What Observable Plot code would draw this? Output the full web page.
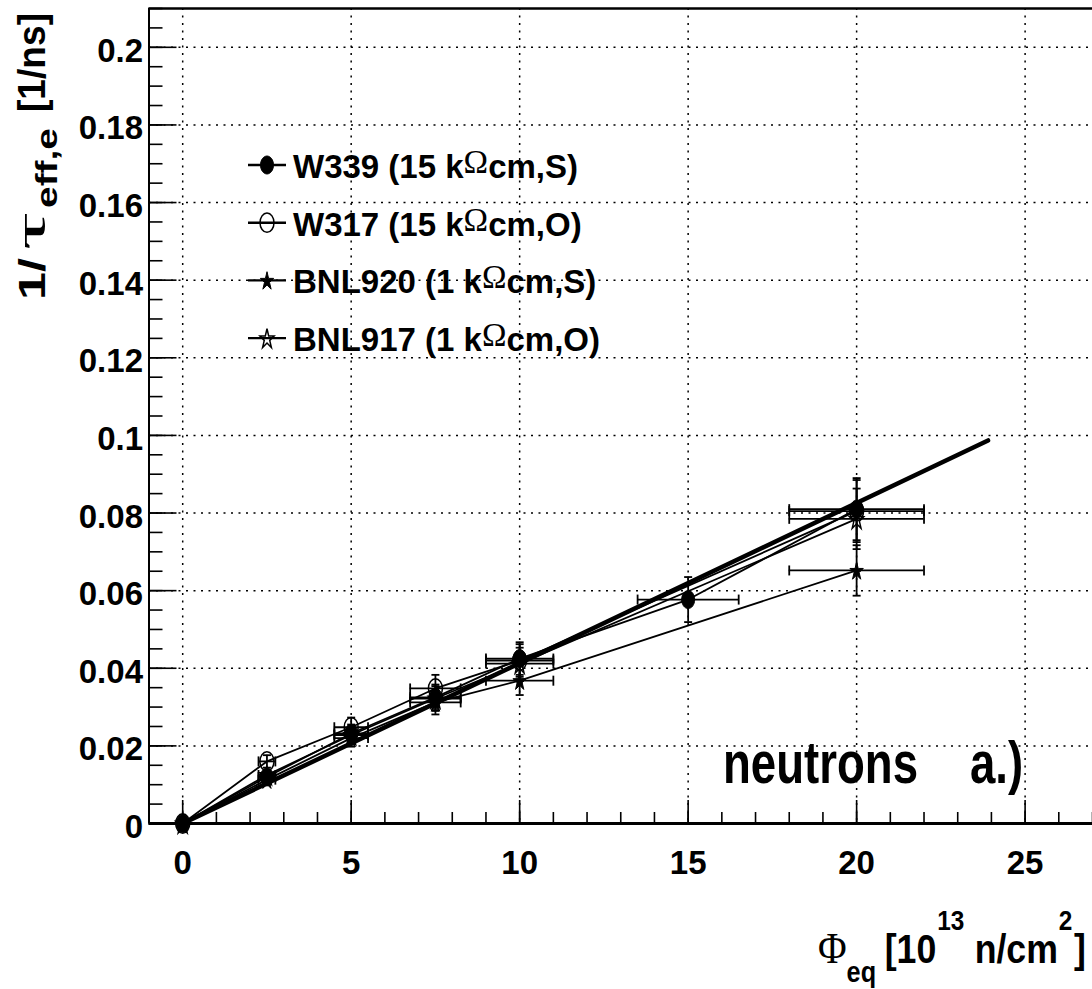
<!DOCTYPE html>
<html>
<head>
<meta charset="utf-8">
<script src="https://cdn.jsdelivr.net/npm/d3@7"></script>
<script src="https://cdn.jsdelivr.net/npm/@observablehq/plot@0.6"></script>
<style>
  html, body { margin: 0; padding: 0; background: #fff; }
  #chart svg { display: block; }
</style>
</head>
<body>
<div id="chart"></div>
<script>
// ---------- data ----------
const xTicks = [0, 5, 10, 15, 20, 25];
const yTicks = [0, 0.02, 0.04, 0.06, 0.08, 0.1, 0.12, 0.14, 0.16, 0.18, 0.2];

const seriesNames = ["W339 (15 kΩcm,S)", "W317 (15 kΩcm,O)", "BNL920 (1 kΩcm,S)", "BNL917 (1 kΩcm,O)"];

const w339X    = [0, 2.5, 5, 7.5, 10, 15, 20];
const w339XErr = [0, 0.25, 0.5, 0.75, 1, 1.5, 2];
const w339Y    = [0, 0.0120, 0.0232, 0.0325, 0.0425, 0.0577, 0.0810];
const w339YErr = [0, 0.0012, 0.0023, 0.0033, 0.0042, 0.0058, 0.0080];

const w317X    = [0, 2.5, 5, 7.5, 10, 20];
const w317XErr = [0, 0.25, 0.5, 0.75, 1, 2];
const w317Y    = [0, 0.0160, 0.0248, 0.0348, 0.0420, 0.0805];
const w317YErr = [0, 0.0016, 0.0025, 0.0035, 0.0042, 0.0080];

const bnl920X    = [0, 2.5, 5, 7.5, 10, 20];
const bnl920XErr = [0, 0.25, 0.5, 0.75, 1, 2];
const bnl920Y    = [0, 0.0113, 0.0220, 0.0312, 0.0368, 0.0652];
const bnl920YErr = [0, 0.0011, 0.0022, 0.0031, 0.0037, 0.0065];

const bnl917X    = [0, 2.5, 5, 7.5, 10, 20];
const bnl917XErr = [0, 0.25, 0.5, 0.75, 1, 2];
const bnl917Y    = [0, 0.0125, 0.0228, 0.0322, 0.0412, 0.0785];
const bnl917YErr = [0, 0.0012, 0.0023, 0.0032, 0.0041, 0.0078];

const fitX = [0, 23.9];
const fitY = [0, 0.0987];

// ---------- styling ----------
const SANS = "'Liberation Sans', Arial, Helvetica, sans-serif";
const SERIF = "'Liberation Serif', 'Times New Roman', serif";
const SY = 1.38; // vertical stretch of markers in the original

function ellipsePath(ctx, rx, ry) {
  const k = 0.5523;
  ctx.moveTo(rx, 0);
  ctx.bezierCurveTo(rx, ry * k, rx * k, ry, 0, ry);
  ctx.bezierCurveTo(-rx * k, ry, -rx, ry * k, -rx, 0);
  ctx.bezierCurveTo(-rx, -ry * k, -rx * k, -ry, 0, -ry);
  ctx.bezierCurveTo(rx * k, -ry, rx, -ry * k, rx, 0);
  ctx.closePath();
}
function starPath(ctx, R, sy) {
  const kr = Math.sin(Math.PI / 10) / Math.sin(7 * Math.PI / 10);
  for (let i = 0; i < 10; i++) {
    const a = Math.PI / 5 * i;
    const rad = i % 2 ? R * kr : R;
    const px = Math.sin(a) * rad, py = -Math.cos(a) * rad * sy + R * 0.1 * sy;
    if (i) ctx.lineTo(px, py); else ctx.moveTo(px, py);
  }
  ctx.closePath();
}
const rOf = size => Math.sqrt(size / Math.PI);
const ellipseSym = { draw(ctx, size) { const r = rOf(size); ellipsePath(ctx, r, r * SY); } };
const starSym = { draw(ctx, size) { starPath(ctx, rOf(size), SY); } };
const vbarSym = { draw(ctx, size) { const r = rOf(size); ctx.moveTo(0, -r); ctx.lineTo(0, r); } };
const hbarSym = { draw(ctx, size) { const r = rOf(size); ctx.moveTo(-r, 0); ctx.lineTo(r, 0); } };

const markerStyle = [
  { symbol: ellipseSym, r: 6.5, fill: "black", stroke: "black", sw: 1 },
  { symbol: ellipseSym, r: 7, fill: "none", stroke: "black", sw: 1.5 },
  { symbol: starSym, r: 7, fill: "black", stroke: "black", sw: 1 },
  { symbol: starSym, r: 7.5, fill: "none", stroke: "black", sw: 1.5 }
];

// ---------- rows ----------
const raw = [
  [w339X, w339XErr, w339Y, w339YErr],
  [w317X, w317XErr, w317Y, w317YErr],
  [bnl920X, bnl920XErr, bnl920Y, bnl920YErr],
  [bnl917X, bnl917XErr, bnl917Y, bnl917YErr]
];
const rows = [];
raw.forEach(([xs, exs, ys, eys], s) => xs.forEach((x, i) =>
  rows.push({ s, series: seriesNames[s], x, ex: exs[i], y: ys[i], ey: eys[i] })));
const errRows = rows.filter(d => d.ex > 0);
const fitRows = fitX.map((x, i) => ({ x, y: fitY[i] }));

const W = 1092, H = 989, ML = 148.5, MR = 0, MT = 8, MB = 166;
const FW = W - ML - MR, FH = H - MT - MB;
const xMinor = d3.range(-1, 27.01, 1);
const yMinor = d3.range(0, 0.2101, 0.005);

const dotted = { stroke: "black", strokeOpacity: 1, strokeWidth: 1.5, strokeDasharray: "2,5.5" };

const marks = [
  Plot.gridX(xTicks, dotted),
  Plot.gridY(yTicks.slice(1), dotted),
  Plot.tickX(xMinor, { x: d => d, insetTop: FH - 11, strokeWidth: 1.6 }),
  Plot.tickX(xTicks, { x: d => d, insetTop: FH - 23, strokeWidth: 1.6 }),
  Plot.tickY(yMinor, { y: d => d, insetRight: FW - 14, strokeWidth: 1.6 }),
  Plot.tickY(yTicks, { y: d => d, insetRight: FW - 28, strokeWidth: 1.6 }),
  Plot.axisX(xTicks, { tickSize: 0, tickPadding: 27, fontSize: 33, fontWeight: "bold", fontFamily: SANS, label: null }),
  Plot.axisY(yTicks, { tickSize: 0, tickPadding: 6, fontSize: 33, fontWeight: "bold", fontFamily: SANS, label: null, dy: 4, tickFormat: d => String(d) }),
  Plot.ruleY([0], { stroke: "black", strokeWidth: 2.8 }),
  Plot.ruleY([0.21], { stroke: "black", strokeWidth: 2.4 }),
  Plot.ruleX([-1], { stroke: "black", strokeWidth: 2 }),
  // connecting lines
  Plot.line(rows, { x: "x", y: "y", z: "series", stroke: "black", strokeWidth: 1.8 }),
  // error bars
  Plot.ruleY(errRows, { y: "y", x1: d => d.x - d.ex, x2: d => d.x + d.ex, stroke: "black", strokeWidth: 1.8 }),
  Plot.ruleX(errRows, { x: "x", y1: d => d.y - d.ey, y2: d => d.y + d.ey, stroke: "black", strokeWidth: 1.8 }),
  Plot.dot(errRows, { x: d => d.x - d.ex, y: "y", symbol: vbarSym, r: 5, stroke: "black", strokeWidth: 1.8 }),
  Plot.dot(errRows, { x: d => d.x + d.ex, y: "y", symbol: vbarSym, r: 5, stroke: "black", strokeWidth: 1.8 }),
  Plot.dot(errRows, { x: "x", y: d => d.y - d.ey, symbol: hbarSym, r: 4, stroke: "black", strokeWidth: 1.8 }),
  Plot.dot(errRows, { x: "x", y: d => d.y + d.ey, symbol: hbarSym, r: 4, stroke: "black", strokeWidth: 1.8 }),
  // markers
  ...markerStyle.map((m, s) => Plot.dot(rows.filter(d => d.s === s), {
    x: "x", y: "y", symbol: m.symbol, r: m.r, fill: m.fill, stroke: m.stroke, strokeWidth: m.sw
  })),
  // linear fit
  Plot.line(fitRows, { x: "x", y: "y", stroke: "black", strokeWidth: 4.5 })
];

const chart = Plot.plot({
  width: W, height: H,
  marginLeft: ML, marginRight: MR, marginTop: MT, marginBottom: MB,
  x: { domain: [-1, 27] },
  y: { domain: [0, 0.21] },
  style: { background: "white", color: "black", fontFamily: SANS, overflow: "visible" },
  marks
});
document.getElementById("chart").appendChild(chart);

// ---------- annotations (legend, titles, label) ----------
const svg = d3.select(chart);
function txt(parent, o) {
  const t = parent.append("text")
    .attr("text-anchor", o.anchor || "start")
    .attr("font-family", o.family || SANS)
    .attr("font-weight", o.weight || "bold")
    .attr("font-size", o.size)
    .attr("transform", `translate(${o.x},${o.y})` + (o.rotate ? ` rotate(${o.rotate})` : "") + (o.sx ? ` scale(${o.sx},1)` : ""));
  if (o.text != null) t.text(o.text);
  if (o.len) t.attr("textLength", o.len).attr("lengthAdjust", "spacingAndGlyphs");
  return t;
}

// legend
const legend = svg.append("g");
markerStyle.forEach((m, i) => {
  const cy = 165 + i * 57.7;
  legend.append("line").attr("x1", 248).attr("x2", 286).attr("y1", cy).attr("y2", cy)
    .attr("stroke", "black").attr("stroke-width", 2.4);
  const p = d3.path();
  m.symbol.draw(p, m.r * m.r * Math.PI);
  legend.append("path").attr("d", p.toString()).attr("transform", `translate(267,${cy})`)
    .attr("fill", m.fill).attr("stroke", m.stroke).attr("stroke-width", m.sw);
  const [pre, post] = seriesNames[i].split("Ω");
  const t = legend.append("text").attr("x", 293).attr("y", cy + 13).attr("text-anchor", "start")
    .attr("font-family", SANS).attr("font-weight", "bold").attr("font-size", 33);
  t.append("tspan").text(pre);
  t.append("tspan").attr("font-family", SERIF).attr("font-weight", "normal").attr("font-size", 33).attr("dy", -5).text("Ω");
  t.append("tspan").attr("dy", 5).text(post);
});

// y title (rotated pieces, measured along the axis)
const yt = svg.append("g");
txt(yt, { x: 45, y: 13, rotate: -90, anchor: "end", size: 38, text: "[1/ns]", len: 99 });
txt(yt, { x: 57, y: 128, rotate: -90, anchor: "end", size: 30, text: "eff,e", len: 80 });
txt(yt, { x: 45, y: 212, rotate: -90, anchor: "end", size: 44, family: SERIF, weight: "normal", text: "τ", len: 38 });
txt(yt, { x: 45, y: 300, rotate: -90, anchor: "start", size: 37, text: "1/", len: 42 });

// x title: Φ_eq [10^13 n/cm^2]
const xt = txt(svg, { x: 818, y: 963, size: 41, sx: 0.87 });
xt.append("tspan").attr("font-family", SERIF).attr("font-weight", "normal").attr("font-size", 45).text("Φ");
xt.append("tspan").attr("font-size", 29).attr("dy", 19).text("eq");
xt.append("tspan").attr("dy", -19).attr("dx", 10).text("[10");
xt.append("tspan").attr("font-size", 28).attr("dy", -33).attr("dx", 1).text("13");
xt.append("tspan").attr("dy", 33).attr("dx", 12).text("n/cm");
xt.append("tspan").attr("font-size", 28).attr("dy", -33).attr("dx", 1).text("2");
xt.append("tspan").attr("dy", 33).attr("dx", 2).text("]");

// panel label
txt(svg, { x: 723, y: 783, size: 60, sx: 0.76, text: "neutrons" });
txt(svg, { x: 970, y: 783, size: 60, sx: 0.76, text: "a.)" });
</script>
</body>
</html>
